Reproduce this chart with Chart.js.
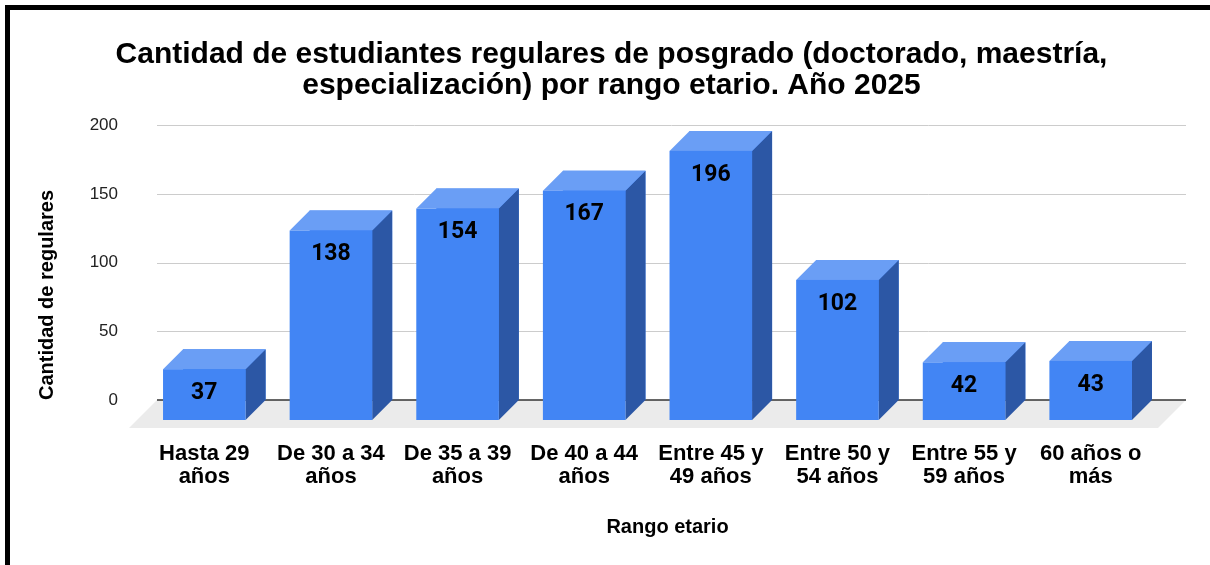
<!DOCTYPE html>
<html><head><meta charset="utf-8">
<script src="https://cdn.jsdelivr.net/npm/chart.js@4.4.1/dist/chart.umd.min.js"></script>
<style>html,body{margin:0;padding:0;background:#fff;overflow:hidden}</style>
</head><body>
<canvas id="c" width="1210" height="565"></canvas>
<script>
const categories = [["Hasta 29","años"],["De 30 a 34","años"],["De 35 a 39","años"],["De 40 a 44","años"],["Entre 45 y","49 años"],["Entre 50 y","54 años"],["Entre 55 y","59 años"],["60 años o","más"]];
const regulares = [37,138,154,167,196,102,42,43];
const yTicks = [0,50,100,150,200];
const chartTitle = ["Cantidad de estudiantes regulares de posgrado (doctorado, maestría,","especialización) por rango etario. Año 2025"];
const yTitle = "Cantidad de regulares";
const xTitle = "Rango etario";

const FONT = "'Liberation Sans', Arial, sans-serif";
const DEPTH = 20, FLOOR = 28;
const FRONT = '#4285f4', TOP = '#6a9ef5', SIDE = '#2c57a5';

const frame = {
  id: 'frame',
  afterDraw(chart) {
    const ctx = chart.ctx;
    ctx.save();
    ctx.fillStyle = '#000';
    ctx.fillRect(5, 5, 1205, 5);
    ctx.fillRect(5, 5, 5, 560);
    ctx.restore();
  }
};

const box3d = {
  id: 'box3d',
  beforeDatasetsDraw(chart) {
    const {ctx, chartArea: a, scales: {y}} = chart;
    const y0 = y.getPixelForValue(0);
    const L = a.left - 4, R = a.right + 12;
    ctx.save();
    ctx.fillStyle = '#ebebeb';
    ctx.beginPath();
    ctx.moveTo(L, y0); ctx.lineTo(R, y0);
    ctx.lineTo(R - FLOOR, y0 + FLOOR); ctx.lineTo(L - FLOOR, y0 + FLOOR);
    ctx.closePath(); ctx.fill();
    ctx.strokeStyle = '#cccccc'; ctx.lineWidth = 1;
    y.ticks.forEach(t => {
      if (t.value === 0) return;
      const py = Math.round(y.getPixelForValue(t.value)) + 0.5;
      ctx.beginPath(); ctx.moveTo(L, py); ctx.lineTo(R, py); ctx.stroke();
    });
    ctx.strokeStyle = '#333333'; ctx.lineWidth = 1.5;
    ctx.beginPath(); ctx.moveTo(L, y0); ctx.lineTo(R, y0); ctx.stroke();
    ctx.restore();
  },
  afterDatasetsDraw(chart) {
    const ctx = chart.ctx;
    const meta = chart.getDatasetMeta(0);
    const d = DEPTH;
    ctx.save();
    meta.data.forEach((bar, i) => {
      const {x, y, base, width} = bar.getProps(['x', 'y', 'base', 'width'], true);
      const x0 = x - width / 2, x1 = x + width / 2;
      ctx.fillStyle = SIDE;
      ctx.beginPath();
      ctx.moveTo(x1, y); ctx.lineTo(x1, base); ctx.lineTo(x1 - d, base + d); ctx.lineTo(x1 - d, y + d);
      ctx.closePath(); ctx.fill();
      ctx.fillStyle = TOP;
      ctx.beginPath();
      ctx.moveTo(x0, y); ctx.lineTo(x1, y); ctx.lineTo(x1 - d, y + d); ctx.lineTo(x0 - d, y + d);
      ctx.closePath(); ctx.fill();
      ctx.fillStyle = FRONT;
      ctx.fillRect(x0 - d, y + d, width, base - y);
      ctx.fillStyle = '#000';
      ctx.font = "bold 23px Roboto, 'Liberation Sans', sans-serif";
      ctx.textAlign = 'center'; ctx.textBaseline = 'middle';
      ctx.fillText(String(chart.data.datasets[0].data[i]), x - d, y + d + 24);
    });
    ctx.restore();
  }
};

new Chart(document.getElementById('c'), {
  type: 'bar',
  data: {
    labels: categories,
    datasets: [{ data: regulares, backgroundColor: FRONT, borderWidth: 0,
      categoryPercentage: 1.0, barPercentage: 0.652 }]
  },
  options: {
    responsive: false,
    devicePixelRatio: 1,
    animation: false,
    layout: { padding: { left: 13, right: 0, top: 0, bottom: 0 } },
    plugins: {
      legend: { display: false },
      tooltip: { enabled: false },
      title: {
        display: true, text: chartTitle, color: '#000',
        font: { family: FONT, size: 30, weight: 'bold', lineHeight: 1.04 },
        padding: { top: 39, bottom: 24 }
      }
    },
    scales: {
      x: {
        grid: { display: false, drawTicks: false },
        border: { display: false },
        ticks: { padding: 42, labelOffset: -DEPTH, maxRotation: 0, autoSkip: false, color: '#000',
          font: { family: FONT, size: 22, weight: 'bold', lineHeight: 1.05 } },
        title: { display: true, text: xTitle, color: '#000',
          font: { family: FONT, size: 20, weight: 'bold', lineHeight: 1.2 },
          padding: { top: 0, bottom: 26 } },
        afterFit(s) { s.height = 165; }
      },
      y: {
        min: 0, max: 200,
        afterBuildTicks(s) { s.ticks = yTicks.map(v => ({ value: v })); },
        grid: { display: false, drawTicks: false },
        border: { display: false },
        ticks: { padding: 43, color: '#222', font: { family: FONT, size: 17 } },
        title: { display: true, text: yTitle, align: 'start', color: '#000',
          font: { family: FONT, size: 20, weight: 'bold', lineHeight: 1.2 },
          padding: { top: 22, bottom: 0 } },
        afterFit(s) { s.width = 148; }
      },
      y2: {
        position: 'right', min: 0, max: 200,
        grid: { display: false, drawTicks: false },
        border: { display: false },
        ticks: { display: false },
        afterFit(s) { s.width = 36; }
      }
    }
  },
  plugins: [box3d, frame]
});
</script>
</body></html>
